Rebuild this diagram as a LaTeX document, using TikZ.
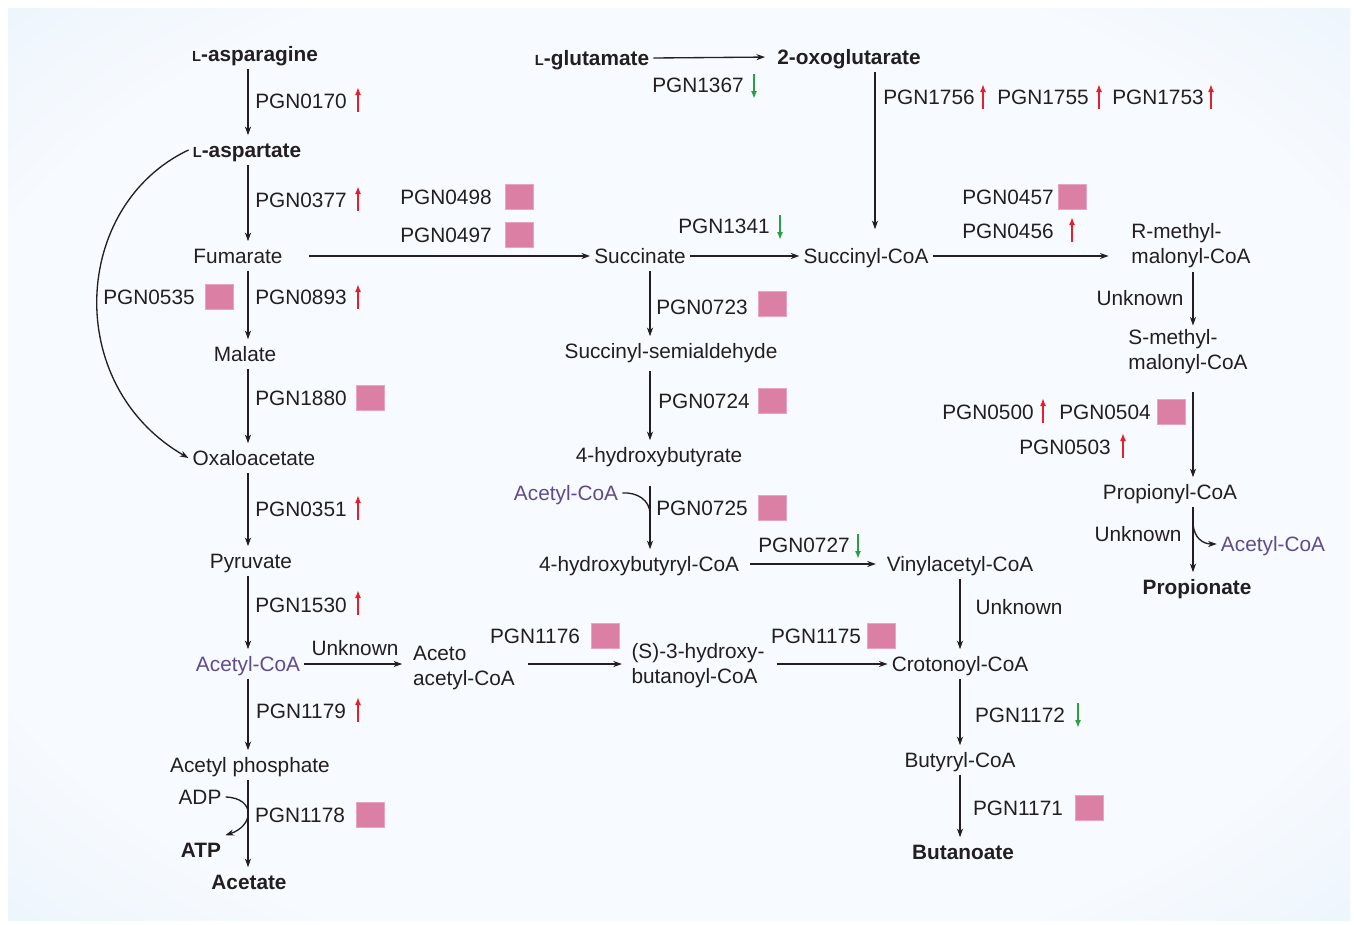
\documentclass[tikz,border=0pt]{standalone}
\usepackage{fontspec}
\setmainfont{Liberation Sans}
\usetikzlibrary{arrows.meta,positioning,calc}

\definecolor{inkgray}{RGB}{35,31,32}
\definecolor{acpurple}{RGB}{96,76,140}
\definecolor{pinkbox}{RGB}{219,128,164}
\definecolor{upred}{RGB}{232,30,45}
\definecolor{downgreen}{RGB}{40,160,70}
\definecolor{centerwhite}{RGB}{247,250,254}
\definecolor{edgeblue}{RGB}{218,236,250}
\definecolor{cornerblue}{RGB}{206,229,248}

\pgfdeclareradialshading{panel}{\pgfpoint{0bp}{0bp}}{%
  color(0bp)=(centerwhite); color(28bp)=(centerwhite);
  color(50bp)=(edgeblue); color(72bp)=(cornerblue)}

\newcommand{\Lsc}{{\fontsize{11}{11}\selectfont L}}

\tikzset{
  upreg/.pic={\draw[upred,line width=1.3pt,-{Latex[length=6pt,width=4.5pt]}] (0,12) -- (0,-13);},
  downreg/.pic={\draw[downgreen,line width=1.3pt,-{Latex[length=6pt,width=4.5pt]}] (0,-12) -- (0,13);}
}

\begin{document}
\begin{tikzpicture}[
  x=0.75pt,y=-0.75pt,
  font=\fontsize{15.6}{18.8}\selectfont,
  every node/.style={text=inkgray},
  >={Stealth[length=6.5pt,width=4.6pt]},
  met/.style={inner sep=3pt,text height=13.5pt,text depth=2.3pt},
  met2/.style={inner sep=3pt,align=left},
  endp/.style={met,font=\fontsize{15.6}{18.8}\selectfont\bfseries},
  aco/.style={met,text=acpurple},
  gene/.style={inner sep=2pt},
  hit/.style={fill=pinkbox,draw=pinkbox!70!white,line width=.5pt,minimum width=21pt,minimum height=18.5pt,inner sep=0pt},
  line/.style={->,line width=1pt,draw=inkgray},
  side/.style={line width=1pt,draw=inkgray}
]
\path[use as bounding box,fill=white] (0,0) rectangle (1354,925);
\shade[shading=panel] (8,8) rectangle (1350,920);

% columns of the vertical arrows
\coordinate (colA) at (248,0);
\coordinate (colB) at (650,0);
\coordinate (colC) at (875,0);
\coordinate (colD) at (960,0);
\coordinate (colE) at (1193,0);

% Asparagine to acetate.
\node[endp] (asn) at (255,54) {\Lsc-asparagine};
\node[endp] (asp) at (247,150) {\Lsc-aspartate};
\node[met] (fum) at (238,256) {Fumarate};
\node[met] (mal) at (245,354) {Malate};
\node[met] (oxa) at (254,458) {Oxaloacetate};
\node[met] (pyr) at (251,561) {Pyruvate};
\node[aco] (acoa1) at (248,664) {Acetyl-CoA};
\node[met] (acp) at (250,765) {Acetyl phosphate};
\node[endp] (ace) at (249,882) {Acetate};
\node[met] (adp) at (200,797) {ADP};
\node[endp] (atp) at (201,850) {ATP};

\draw[line] (asn.south -| colA) -- (asp.north -| colA);
\draw[line] (asp.south -| colA) -- (fum.north -| colA);
\draw[line] (fum.south -| colA) -- (mal.north -| colA);
\draw[line] (mal.south -| colA) -- (oxa.north -| colA);
\draw[line] (oxa.south -| colA) -- (pyr.north -| colA);
\draw[line] (pyr.south -| colA) -- (acoa1.north -| colA);
\draw[line] (acoa1.south -| colA) -- (acp.north -| colA);
\draw[line] (acp.south -| colA) -- (ace.north -| colA);
\draw[line] (asp.west) .. controls (72,205) and (62,385) .. (oxa.west);
\draw[line] (adp.east) .. controls (256,798) and (254,826) .. (atp.north east);

\node[gene] (g0170) at (301,101) {PGN0170};
\pic at (358,100) {upreg};
\node[gene] (g0377) at (301,200) {PGN0377};
\pic at (358,199) {upreg};
\node[gene] (g0535) at (149,297) {PGN0535};
\node[hit] (b0535) at (219,297) {};
\node[gene] (g0893) at (301,297) {PGN0893};
\pic at (358,297) {upreg};
\node[gene] (g1880) at (301,398) {PGN1880};
\node[hit] (b1880) at (370,398) {};
\node[gene] (g0351) at (301,509) {PGN0351};
\pic at (358,508) {upreg};
\node[gene] (g1530) at (301,605) {PGN1530};
\pic at (358,603) {upreg};
\node[gene] (g1179) at (301,711) {PGN1179};
\pic at (358,710) {upreg};
\node[gene] (g1178) at (300,815) {PGN1178};
\node[hit] (b1178) at (370,815) {};

% Acetyl-CoA to crotonoyl-CoA.
\node[met2] (aca) at (464,668) {Aceto\\acetyl-CoA};
\node[met2] (s3h) at (698,666) {(S)-3-hydroxy-\\butanoyl-CoA};
\node[gene] (unk1) at (355,648) {Unknown};
\node[gene] (g1176) at (535,636) {PGN1176};
\node[hit] (b1176) at (605,636) {};
\node[gene] (g1175) at (816,636) {PGN1175};
\node[hit] (b1175) at (881,636) {};
\draw[line,shorten >=5pt] (acoa1.east) -- (aca.west |- acoa1.east);
\draw[line,shorten <=7pt,shorten >=4pt] (aca.east |- acoa1.east) -- (s3h.west |- acoa1.east);

% Glutamate, succinate and the succinyl-CoA branch.
\node[endp] (glu) at (592,58) {\Lsc-glutamate};
\node[endp] (oxg) at (849,57) {2-oxoglutarate};
\node[met] (suc) at (640,256) {Succinate};
\node[met] (succoa) at (866,256) {Succinyl-CoA};
\node[met] (ssa) at (671,351) {Succinyl-semialdehyde};
\node[met] (hbt) at (659,455) {4-hydroxybutyrate};
\node[aco] (acoa2) at (566,493) {Acetyl-CoA};
\node[met] (hbc) at (639,564) {4-hydroxybutyryl-CoA};
\coordinate (j0725) at (650,514);

\draw[line,shorten >=6pt] (glu.east) -- (oxg.west);
\draw[line,shorten <=17pt] (fum.east) -- (suc.west);
\draw[line] (suc.east) -- (succoa.west);
\draw[line,shorten >=9pt] (oxg.south -| colC) -- (succoa.north -| colC);
\draw[line] (suc.south -| colB) -- (ssa.north -| colB);
\draw[line,shorten <=4pt] (ssa.south -| colB) -- (hbt.north -| colB);
\draw[line,shorten <=12pt] (hbt.south -| colB) -- (hbc.north -| colB);
\draw[side] (acoa2.east) .. controls (637,492) and (650,500) .. (j0725);

\node[gene] (g1367) at (698,85) {PGN1367};
\pic at (754,86) {downreg};
\node[gene] (g1756) at (929,97) {PGN1756};
\pic at (983,97) {upreg};
\node[gene] (g1755) at (1043,97) {PGN1755};
\pic at (1099,97) {upreg};
\node[gene] (g1753) at (1158,97) {PGN1753};
\pic at (1211,97) {upreg};
\node[gene] (g0498) at (446,197) {PGN0498};
\node[hit] (b0498) at (519,197) {};
\node[gene] (g0497) at (446,235) {PGN0497};
\node[hit] (b0497) at (519,235) {};
\node[gene] (g1341) at (724,226) {PGN1341};
\pic at (780,227) {downreg};
\node[gene] (g0723) at (702,307) {PGN0723};
\node[hit] (b0723) at (772,304) {};
\node[gene] (g0724) at (704,401) {PGN0724};
\node[hit] (b0724) at (772,401) {};
\node[gene] (g0725) at (702,508) {PGN0725};
\node[hit] (b0725) at (772,508) {};

% Methylmalonyl route to propionate.
\node[met2] (rmm) at (1191,246) {R-methyl-\\malonyl-CoA};
\node[met2] (smm) at (1188,352) {S-methyl-\\malonyl-CoA};
\node[met] (pro) at (1170,492) {Propionyl-CoA};
\node[aco] (acoa3) at (1273,544) {Acetyl-CoA};
\node[endp] (ppn) at (1197,587) {Propionate};
\draw[line,shorten >=14pt] (succoa.east) -- (rmm.west |- succoa.east);
\draw[line] (rmm.south -| colE) -- (smm.north -| colE);
\draw[line,shorten <=10pt] (smm.south -| colE) -- (pro.north -| colE);
\draw[line] (pro.south -| colE) -- (ppn.north -| colE);
\draw[line] ($(pro.south -| colE)+(0,17)$) .. controls +(1,14) and +(-14,0) .. (acoa3.west);

\node[gene] (g0457) at (1008,197) {PGN0457};
\node[hit] (b0457) at (1072,197) {};
\node[gene] (g0456) at (1008,231) {PGN0456};
\pic at (1072,230) {upreg};
\node[gene] (unk2) at (1140,298) {Unknown};
\node[gene] (g0500) at (988,412) {PGN0500};
\pic at (1043,411) {upreg};
\node[gene] (g0504) at (1105,412) {PGN0504};
\node[hit] (b0504) at (1171,412) {};
\node[gene] (g0503) at (1065,447) {PGN0503};
\pic at (1123,446) {upreg};
\node[gene] (unk3) at (1138,534) {Unknown};

% Vinylacetyl-CoA to butanoate.
\node[met] (vin) at (960,564) {Vinylacetyl-CoA};
\node[met] (cro) at (960,664) {Crotonoyl-CoA};
\node[met] (but) at (960,760) {Butyryl-CoA};
\node[endp] (bta) at (963,852) {Butanoate};
\draw[line,shorten <=5pt,shorten >=5pt] (hbc.east) -- (vin.west);
\draw[line,shorten <=6pt] (s3h.east |- cro.west) -- (cro.west);
\draw[line] (vin.south -| colD) -- (cro.north -| colD);
\draw[line] (cro.south -| colD) -- (but.north -| colD);
\draw[line] (but.south -| colD) -- (bta.north -| colD);

\node[gene] (g0727) at (804,545) {PGN0727};
\pic at (858,546) {downreg};
\node[gene] (unk4) at (1019,607) {Unknown};
\node[gene] (g1172) at (1020,715) {PGN1172};
\pic at (1078,715) {downreg};
\node[gene] (g1171) at (1018,808) {PGN1171};
\node[hit] (b1171) at (1089,808) {};
\end{tikzpicture}
\end{document}
